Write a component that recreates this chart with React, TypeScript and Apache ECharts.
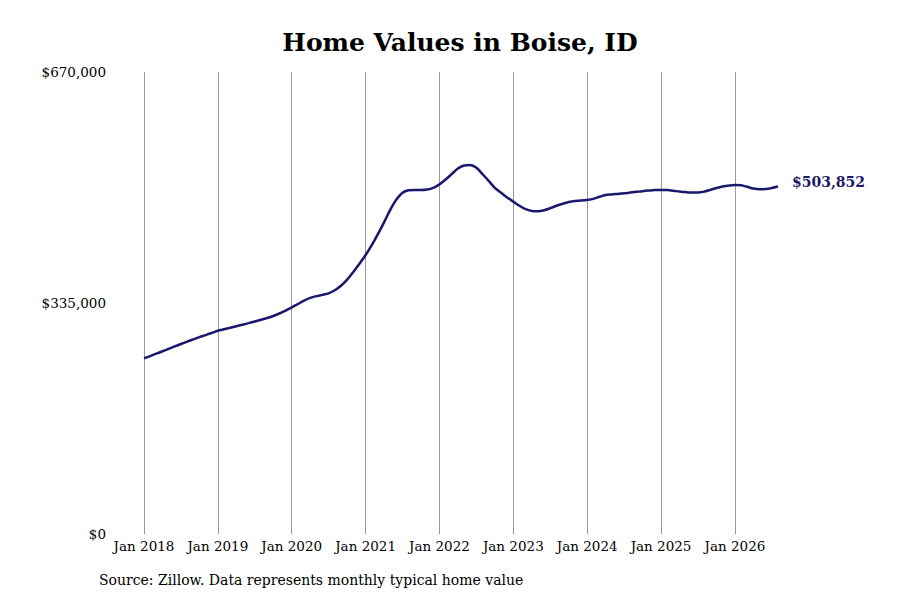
import React, { useEffect, useRef } from "react";
import * as echarts from "echarts";

const TITLE = "Home Values in Boise, ID";
const SOURCE = "Source: Zillow. Data represents monthly typical home value";
const MONTHS = ["Jan", "Feb", "Mar", "Apr", "May", "Jun", "Jul", "Aug", "Sep", "Oct", "Nov", "Dec"];
const YEARS = [2018, 2019, 2020, 2021, 2022, 2023, 2024, 2025, 2026];
const Y_TICKS = [0, 335000, 670000];

const v2018 = [254800, 258000, 261500, 265000, 268500, 272000, 275500, 279000, 282300, 285500, 288500, 291500];
const v2019 = [294800, 297000, 299200, 301400, 303500, 305800, 308200, 310600, 313200, 316200, 319800, 324000];
const v2020 = [328700, 333500, 338500, 342500, 345000, 346800, 349000, 353500, 360000, 369000, 380000, 392000];
const v2021 = [404600, 419000, 435000, 452000, 470000, 485000, 495000, 498500, 499000, 498800, 499500, 502000];
const v2022 = [507000, 514000, 522000, 530000, 534500, 535000, 531000, 522000, 512000, 502000, 495000, 488000];
const v2023 = [482000, 476000, 471000, 468500, 468000, 469500, 472500, 476000, 479000, 481500, 483000, 483500];
const v2024 = [484400, 486000, 489000, 491500, 492500, 493200, 494000, 495200, 496200, 497200, 498000, 498700];
const v2025 = [499000, 498700, 497800, 496700, 495800, 495300, 495300, 496500, 499000, 501800, 504000, 505500];
const v2026 = [506300, 505800, 503500, 501000, 500000, 500300, 501800, 503852];

const VALUES = [...v2018, ...v2019, ...v2020, ...v2021, ...v2022, ...v2023, ...v2024, ...v2025, ...v2026];
const CATEGORIES: string[] = [];
YEARS.forEach((y) => MONTHS.forEach((m) => CATEGORIES.push(`${m} ${y}`)));
CATEGORIES.length = VALUES.length;

const FONT = "'DejaVu Serif', serif";
const NAVY = "#19186a";
const fmt = (v: number) => "$" + v.toLocaleString("en-US");

export default function App() {
  const ref = useRef<HTMLDivElement>(null);
  useEffect(() => {
    if (!ref.current) return;
    const chart = echarts.init(ref.current, null, { renderer: "svg" });
    const isJan = (i: number) => i % 12 === 0;
    chart.setOption({
      animation: false,
      backgroundColor: "#ffffff",
      textStyle: { fontFamily: FONT },
      title: {
        text: TITLE,
        left: 455,
        top: 25,
        textAlign: "center",
        textStyle: { fontFamily: FONT, fontWeight: "bold", fontSize: 25, color: "#000" },
      },
      graphic: [
        {
          type: "text",
          left: 99,
          top: 573,
          style: { text: SOURCE, font: `14px ${FONT}`, fill: "#000" },
        },
      ],
      grid: { left: 144, right: 122, top: 72, bottom: 66, containLabel: false },
      xAxis: {
        type: "category",
        data: CATEGORIES,
        boundaryGap: false,
        axisLine: { show: false },
        axisTick: { show: false },
        axisLabel: {
          interval: (i: number) => isJan(i),
          margin: 5,
          fontFamily: FONT,
          fontSize: 13.5,
          color: "#000",
        },
        splitLine: {
          show: true,
          interval: (i: number) => isJan(i),
          lineStyle: { color: "#999999", width: 1 },
        },
      },
      yAxis: {
        type: "value",
        min: Y_TICKS[0],
        max: Y_TICKS[2],
        interval: Y_TICKS[1] - Y_TICKS[0],
        axisLine: { show: false },
        axisTick: { show: false },
        splitLine: { show: false },
        axisLabel: {
          margin: 38,
          fontFamily: FONT,
          fontSize: 13.5,
          color: "#000",
          formatter: (v: number) => fmt(v),
        },
      },
      series: [
        {
          type: "line",
          data: VALUES,
          smooth: 0.3,
          showSymbol: false,
          symbol: "none",
          lineStyle: { color: NAVY, width: 2.5 },
          endLabel: {
            show: true,
            distance: 14,
            offset: [0, -5],
            formatter: (p: any) => fmt(p.value),
            fontFamily: FONT,
            fontWeight: "bold",
            fontSize: 14,
            color: NAVY,
          },
        },
      ],
    });
    return () => chart.dispose();
  }, []);
  return (
    <div
      ref={ref}
      style={{ position: "fixed", left: 0, top: 0, width: 900, height: 600, background: "#fff" }}
    />
  );
}
